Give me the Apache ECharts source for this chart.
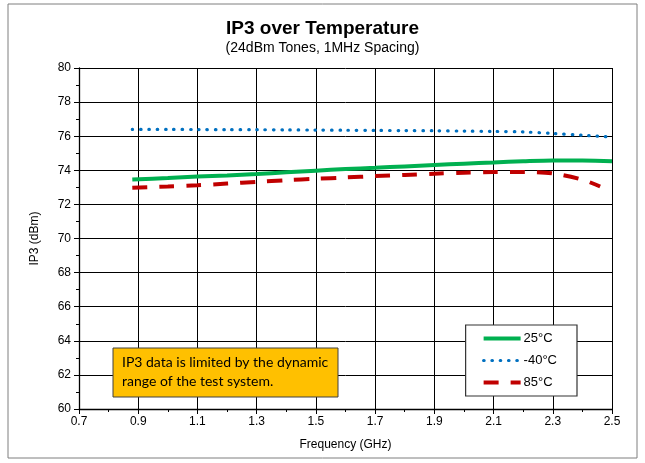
<!DOCTYPE html>
<html><head><meta charset="utf-8">
<script src="https://cdn.jsdelivr.net/npm/echarts@6/dist/echarts.min.js"></script>
<style>html,body{margin:0;padding:0;background:#fff}#c{width:645px;height:463px}</style>
</head><body><div id="c"></div>
<script>
const freqs = [0.88, 1.0, 1.1, 1.2, 1.3, 1.4, 1.5, 1.6, 1.7, 1.8, 1.9, 2.0, 2.1, 2.2, 2.3, 2.4, 2.5];
const ip3_25 = [73.46, 73.55, 73.63, 73.7, 73.78, 73.88, 73.98, 74.07, 74.15, 74.23, 74.31, 74.39, 74.46, 74.53, 74.58, 74.57, 74.53];
const ip3_m40 = [76.4, 76.4, 76.39, 76.38, 76.38, 76.37, 76.36, 76.35, 76.34, 76.33, 76.32, 76.3, 76.28, 76.25, 76.16, 76.06, 75.95];
const freqs85 = [0.88, 1.0, 1.1, 1.2, 1.3, 1.4, 1.5, 1.6, 1.7, 1.8, 1.9, 2.0, 2.1, 2.2, 2.3, 2.4, 2.46];
const ip3_85 = [72.98, 73.05, 73.12, 73.22, 73.32, 73.42, 73.5, 73.58, 73.66, 73.73, 73.8, 73.86, 73.9, 73.9, 73.82, 73.45, 73.05];
const seriesNames = ['25°C', '-40°C', '85°C'];
const titleText = 'IP3 over Temperature';
const subText = '(24dBm Tones, 1MHz Spacing)';
const noteLines = ['IP3 data is limited by the dynamic', 'range of the test system.'];

const zip = (xs, ys) => xs.map((x, i) => [x, ys[i]]);
const chart = echarts.init(document.getElementById('c'));
const font = 'Liberation Sans, Arial, sans-serif';
chart.setOption({
  animation: false,
  title: {
    text: titleText, subtext: subText, left: 'center', top: 14, itemGap: 3,
    textStyle: { fontFamily: font, fontSize: 19, fontWeight: 'bold', color: '#000' },
    subtextStyle: { fontFamily: font, fontSize: 14, color: '#000' }
  },
  grid: { left: 79, right: 33, top: 68, bottom: 54 },
  xAxis: {
    type: 'value', min: 0.7, max: 2.5, interval: 0.2,
    name: 'Frequency (GHz)', nameLocation: 'middle', nameGap: 30,
    nameTextStyle: { fontFamily: font, fontSize: 12, color: '#000' },
    axisLine: { show: true, onZero: false, lineStyle: { color: '#000', width: 1.3 } },
    axisTick: { show: true, length: 5, lineStyle: { color: '#000' } },
    minorTick: { show: true, splitNumber: 2, length: 3, lineStyle: { color: '#000' } },
    axisLabel: { fontFamily: font, fontSize: 12, color: '#000', margin: 7, formatter: v => v.toFixed(1) },
    splitLine: { show: true, lineStyle: { color: '#000', width: 1 } }
  },
  yAxis: {
    type: 'value', min: 60, max: 80, interval: 2,
    name: 'IP3 (dBm)', nameLocation: 'middle', nameGap: 38,
    nameTextStyle: { fontFamily: font, fontSize: 12, color: '#000' },
    axisLine: { show: true, onZero: false, lineStyle: { color: '#000', width: 1.3 } },
    axisTick: { show: true, length: 5, lineStyle: { color: '#000' } },
    minorTick: { show: true, splitNumber: 2, length: 3, lineStyle: { color: '#000' } },
    axisLabel: { fontFamily: font, fontSize: 12, color: '#000', margin: 8 },
    splitLine: { show: true, lineStyle: { color: '#000', width: 1 } }
  },
  legend: {
    orient: 'vertical', right: 68, top: 325, itemWidth: 37, itemHeight: 10, itemGap: 9,
    padding: [7, 20, 7, 16],
    borderColor: '#333', borderWidth: 1.2, backgroundColor: '#fff',
    itemStyle: { opacity: 0 },
    textStyle: { fontFamily: font, fontSize: 13, color: '#000', padding: [0,0,0,-2] },
    data: [
      { name: seriesNames[0], lineStyle: { width: 4 } },
      { name: seriesNames[1], lineStyle: { width: 3.2 } },
      { name: seriesNames[2], lineStyle: { width: 4 } }
    ]
  },
  graphic: [
    { type: 'rect', shape: { x: 8, y: 4, width: 629, height: 454 }, style: { fill: 'none', stroke: '#7f7f7f', lineWidth: 1 }, silent: true, z: -10 },
    { type: 'rect', shape: { x: 113, y: 348, width: 225, height: 49 }, style: { fill: '#FFC000', stroke: '#404040', lineWidth: 1 }, z: 100 },
    { type: 'text', x: 122, y: 353, style: { text: noteLines.join('\n'), fill: '#000', font: '14px Lato, "Open Sans", sans-serif', lineHeight: 19 }, z: 101 }
  ],
  series: [
    { name: seriesNames[0], type: 'line', data: zip(freqs, ip3_25), showSymbol: false, symbol: 'none', smooth: 0.3,
      lineStyle: { color: '#00B050', width: 4 }, itemStyle: { color: '#00B050' } },
    { name: seriesNames[1], type: 'line', data: zip(freqs, ip3_m40), showSymbol: false, symbol: 'none', smooth: 0.3,
      lineStyle: { color: '#0070C0', width: 3.2, type: [0.5, 7.8], cap: 'round' }, itemStyle: { color: '#0070C0' } },
    { name: seriesNames[2], type: 'line', data: zip(freqs85, ip3_85), showSymbol: false, symbol: 'none', smooth: 0.3,
      lineStyle: { color: '#C00000', width: 4, type: [15, 12] }, itemStyle: { color: '#C00000' } }
  ]
});
</script></body></html>
